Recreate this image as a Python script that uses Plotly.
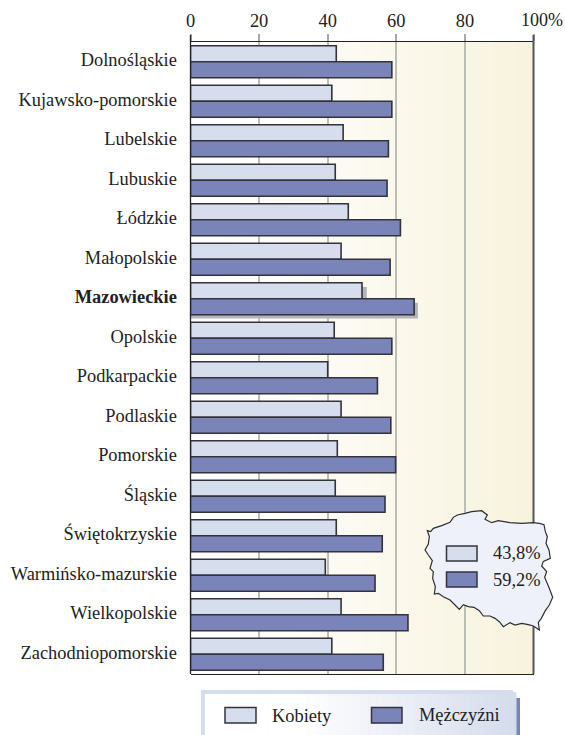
import plotly.graph_objects as go

W, H = 565, 735
regions = ["Dolnośląskie", "Kujawsko-pomorskie", "Lubelskie", "Lubuskie", "Łódzkie", "Małopolskie",
           "Mazowieckie", "Opolskie", "Podkarpackie", "Podlaskie", "Pomorskie", "Śląskie",
           "Świętokrzyskie", "Warmińsko-mazurskie", "Wielkopolskie", "Zachodniopomorskie"]
kobiety = [42.5, 41.2, 44.5, 42.2, 46.0, 43.9, 50.0, 41.9, 40.0, 43.9, 42.8, 42.2, 42.5, 39.3, 43.9, 41.2]
mezczyzni = [58.7, 58.7, 57.7, 57.3, 61.2, 58.2, 65.2, 58.7, 54.5, 58.4, 59.8, 56.7, 55.9, 53.8, 63.4, 56.2]
x_ticks = [0, 20, 40, 60, 80, 100]
x_labels = ["0", "20", "40", "60", "80", ""]
poland_kobiety = "43,8%"
poland_mezczyzni = "59,2%"

FONT = "Liberation Serif"
FS = 18.4
C_K, C_M, C_EDGE = "#d6ddec", "#7a84b8", "#33333c"
L, R, T, B = 190.5, 533.5, 42.0, 674.0
px = lambda x: x / W
py = lambda y: 1 - y / H
dx, dy = px(L), py(T)


def rect(x0, y0, x1, y1, fill, line=None, lw=0, layer="above"):
    return dict(type="rect", xref="paper", yref="paper", x0=px(x0), x1=px(x1), y0=py(y0), y1=py(y1),
                fillcolor=fill, line=dict(color=line or fill, width=lw), layer=layer)


def lerp(a, b, t):
    return "#%02x%02x%02x" % tuple(round(a[i] + (b[i] - a[i]) * t) for i in range(3))


shapes = []
# plot background gradient
N = 60
for i in range(N):
    t = i / (N - 1)
    c = lerp((255, 255, 255), (248, 243, 222), min(1, max(0, (t - 0.1) / 0.9)))
    shapes.append(rect(L + (R - L) * i / N, T, L + (R - L) * (i + 1) / N + 0.5, B, c, layer="below"))

# Mazowieckie shadow
m = regions.index("Mazowieckie")
for v, off, ext in ((kobiety[m], -0.2, 1.4), (mezczyzni[m], 0.2, 1.1)):
    shapes.append(dict(type="rect", xref="x", yref="y", x0=0, x1=v + ext, y0=m + off - 0.2 + 0.1, y1=m + off + 0.2 + 0.1,
                       fillcolor="#b4b4b8", line=dict(width=0), layer="between"))

# frame extras
shapes.append(dict(type="line", xref="paper", yref="paper", x0=px(L), x1=px(L), y0=py(35), y1=py(B),
                   line=dict(color="#222222", width=1.3)))
shapes.append(dict(type="line", xref="paper", yref="paper", x0=px(R), x1=px(R), y0=py(35), y1=py(B),
                   line=dict(color="#555558", width=2)))

# legend panel at the bottom
shapes.append(rect(201, 690, 513, 735, "#d5dcec"))
shapes.append(rect(513, 692, 516, 735, "#d5dcec"))
shapes.append(rect(516, 698, 520, 735, C_M))
M = 40
for i in range(M):
    c = lerp((255, 255, 255), (213, 220, 236), min(1, max(0, (i / (M - 1) - 0.3) / 0.7)))
    shapes.append(rect(205 + 311 * i / M, 694, 205 + 311 * (i + 1) / M + 0.5, 735, c))
shapes.append(rect(225, 707.5, 256, 723, C_K, C_EDGE, 1.5))
shapes.append(rect(371.5, 707.5, 402, 723, C_M, C_EDGE, 1.5))

# Poland outline
outline = [(82, 122), (92, 125), (100, 115), (125, 107), (150, 97), (160, 82), (172, 75), (195, 70), (215, 65),
           (245, 62), (262, 75), (255, 88), (275, 98), (295, 92), (330, 98), (365, 100), (400, 98), (418, 100),
           (432, 104), (436, 125), (442, 140), (438, 160), (447, 180), (451, 205), (430, 214), (425, 228), (440, 245),
           (434, 262), (441, 278), (449, 298), (458, 322), (448, 345), (436, 362), (424, 385), (415, 397), (418, 420),
           (400, 408), (385, 404), (365, 400), (345, 405), (330, 398), (310, 410), (298, 395), (285, 385), (270, 378),
           (250, 378), (238, 362), (222, 352), (205, 350), (190, 344), (178, 358), (165, 345), (150, 330), (130, 320),
           (115, 310), (103, 312), (106, 290), (98, 265), (100, 245), (90, 235), (97, 212), (85, 195), (75, 180),
           (85, 162), (88, 140), (82, 122)]
path = "M " + " L ".join(f"{px(400 + a / 3):.5f} {py(490 + b / 3):.5f}" for a, b in outline) + " Z"
shapes.append(dict(type="path", xref="paper", yref="paper", path=path, fillcolor="#eef1f9",
                   line=dict(color="#2e2e32", width=1.2), layer="above"))
shapes.append(rect(446.5, 546, 477, 561, C_K, C_EDGE, 1.5))
shapes.append(rect(446.5, 572, 477, 587, C_M, C_EDGE, 1.5))


def note(x, y, text, size=FS, anchor="left"):
    return dict(xref="paper", yref="paper", x=px(x), y=py(y), text=text, showarrow=False, xanchor=anchor,
                yanchor="middle", font=dict(family=FONT, size=size, color="#222222"))


annotations = [
    note(565, 20, "100%", size=18, anchor="right"),
    note(490.5, 553, poland_kobiety),
    note(490.5, 580, poland_mezczyzni),
    note(270, 716, "Kobiety"),
    note(416.5, 715, "Mężczyźni"),
]

ypos = list(range(len(regions)))
ticktext = [f"<b>{r}</b>" if r == "Mazowieckie" else r for r in regions]
fig = go.Figure()
for name, vals, col in (("Kobiety", kobiety, C_K), ("Mężczyźni", mezczyzni, C_M)):
    fig.add_bar(name=name, y=ypos, x=vals, orientation="h", marker=dict(color=col, line=dict(color=C_EDGE, width=1.6)))

fig.update_layout(
    width=W, height=H, margin=dict(l=0, r=0, t=0, b=0), autosize=False,
    paper_bgcolor="white", plot_bgcolor="rgba(0,0,0,0)", showlegend=False,
    barmode="group", bargap=0.19, bargroupgap=0,
    font=dict(family=FONT, size=FS, color="#222222"),
    shapes=shapes, annotations=annotations,
    xaxis=dict(domain=[dx, px(R)], range=[0, 100], side="top", anchor="y", tickmode="array", tickvals=x_ticks,
               ticktext=x_labels, ticks="outside", ticklen=7, tickwidth=1.5, tickcolor="#a8a8a8",
               showgrid=True, gridcolor="#bdbdb8", gridwidth=1.5, zeroline=False, automargin=False,
               showline=True, mirror=True, linecolor="#222222", linewidth=1.2),
    yaxis=dict(domain=[py(B), dy], range=[15.5, -0.5], tickmode="array", tickvals=ypos, ticktext=ticktext,
               ticks="outside", ticklen=9, tickcolor="rgba(0,0,0,0)", showgrid=False, zeroline=False,
               ticklabelshift=2, automargin=False, showline=False),
)
fig.write_html("out.html", config={"displayModeBar": False},
               post_script="document.body.style.margin='0';document.documentElement.style.overflow='hidden';")
